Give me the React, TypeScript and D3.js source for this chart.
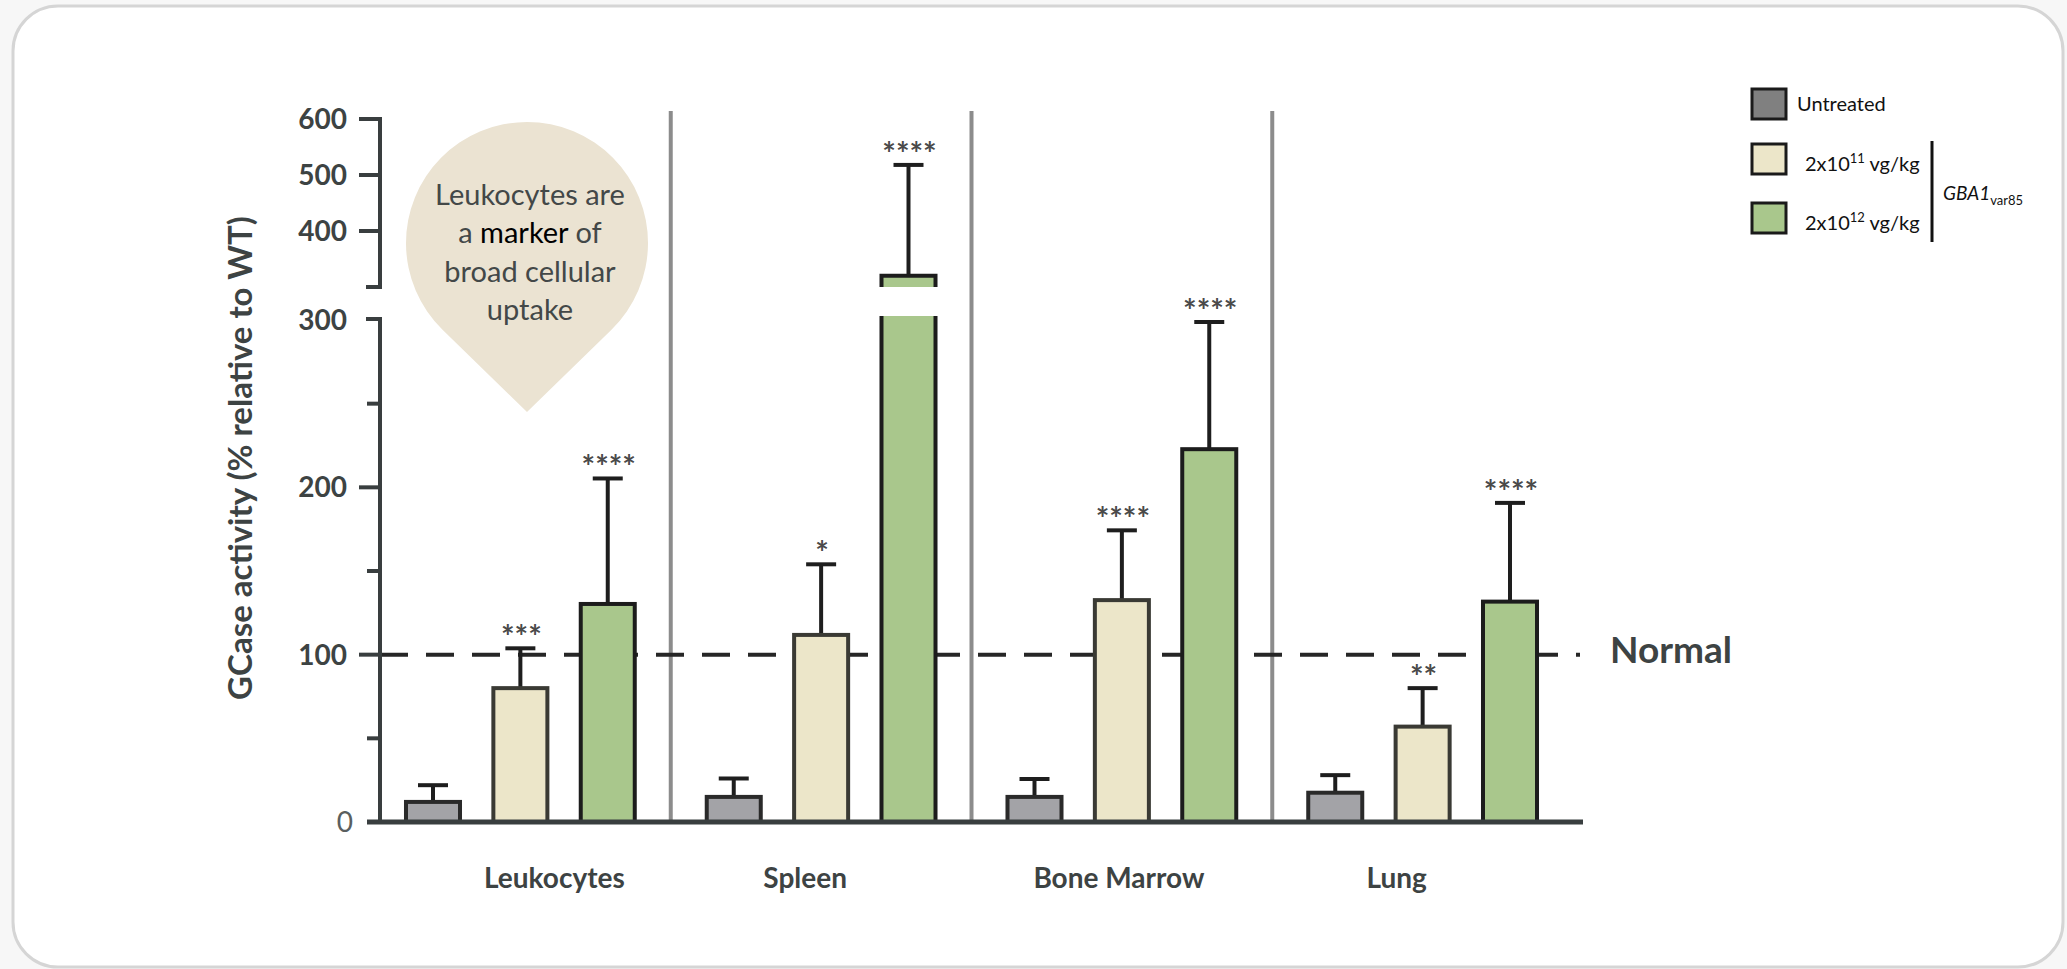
import React from 'react';
import * as d3 from 'd3';

// ---------- data ----------
const categories = ['Leukocytes', 'Spleen', 'Bone Marrow', 'Lung'];
const seriesKeys = ['untreated', 'low', 'high'];
const seriesLabels = ['Untreated', '2x10|11| vg/kg', '2x10|12| vg/kg'];
const untreatedMean = [12, 15, 15, 17.5];
const untreatedSD = [10, 11, 10.7, 10.5];
const lowMean = [80, 111.8, 132.6, 57];
const lowSD = [23.8, 42.2, 41.7, 23];
const highMean = [130.3, 320, 222.8, 131.7];
const highSD = [75, 198, 76, 59];
const untreatedSig = ['', '', '', ''];
const lowSig = ['***', '*', '****', '**'];
const highSig = ['****', '****', '****', '****'];
const lowerTicks = [0, 100, 200];
const lowerMinorTicks = [50, 150, 250];
const upperTicks = [400, 500];
const normalLevel = 100;
const calloutLines = [['Leukocytes are'], ['a ', 'marker', ' of'], ['broad cellular'], ['uptake']];

// ---------- styles / layout ----------
const W = 2067;
const H = 969;
const FONT = "Lato, 'Open Sans', sans-serif";
const INK = '#3d4343';
const AXIS = '#393e3f';
const seriesFill = ['#a3a3a7', '#ece6c9', '#a9c78c'];
const legendFill = ['#808080', '#ece6c9', '#a9c78c'];
const seriesStroke = ['#2a2a2a', '#3a3a34', '#1c1c1c'];
const labelNudge = [34, -16, -3, -26];

const series = [
  { mean: untreatedMean, sd: untreatedSD, sig: untreatedSig },
  { mean: lowMean, sd: lowSD, sig: lowSig },
  { mean: highMean, sd: highSD, sig: highSig },
];

export default function App() {
  const axisX = 380;
  const baseY = 822;
  const x = d3.scaleBand<string>().domain(categories).range([axisX - 10, 1573]);
  const inner = d3
    .scaleBand<string>()
    .domain(seriesKeys)
    .range([0, x.bandwidth()])
    .paddingInner(0.336)
    .paddingOuter(0.389);
  const yL = d3.scaleLinear().domain([0, 300]).range([baseY, 320]);
  const yU = d3.scaleLinear().domain([300, 600]).range([287, 119]);
  const yv = (v: number) => (v <= 300 ? yL(v) : yU(v));
  const lowerTop = yL(300) - 4;
  const bw = inner.bandwidth();
  const capW = 30;

  const xEnd = x.range()[1];
  const separators = categories.slice(1).map((c) => x(c)!);

  // teardrop callout
  const cc = { x: 527, y: 243, r: 121, tipY: 412 };
  const d = cc.tipY - cc.y;
  const cosT = cc.r / d;
  const sinT = Math.sqrt(1 - cosT * cosT);
  const tR = [cc.x + cc.r * sinT, cc.y + cc.r * cosT];
  const tL = [cc.x - cc.r * sinT, cc.y + cc.r * cosT];
  const calloutPath = `M${cc.x},${cc.tipY} L${tR[0]},${tR[1]} A${cc.r},${cc.r} 0 1 0 ${tL[0]},${tL[1]} Z`;

  const bars: React.ReactNode[] = [];
  const errs: React.ReactNode[] = [];
  const stars: React.ReactNode[] = [];
  categories.forEach((cat, ci) => {
    series.forEach((s, si) => {
      const bx = x(cat)! + inner(seriesKeys[si])!;
      const cx = bx + bw / 2;
      const v = s.mean[ci];
      const top = v + s.sd[ci];
      const key = `${ci}-${si}`;
      const x0 = bx + 2;
      const x1 = bx + bw - 2;
      if (v <= 300) {
        bars.push(
          <rect key={key} x={x0} y={yv(v)} width={x1 - x0} height={baseY - yv(v)}
            fill={seriesFill[si]} stroke={seriesStroke[si]} strokeWidth={4} />
        );
      } else {
        bars.push(
          <g key={key}>
            <rect x={x0} y={lowerTop} width={x1 - x0} height={baseY - lowerTop} fill={seriesFill[si]} />
            <path d={`M${x0},${lowerTop} V${baseY} H${x1} V${lowerTop}`} fill="none" stroke={seriesStroke[si]} strokeWidth={4} />
            <rect x={x0} y={yU(v)} width={x1 - x0} height={yU(300) - yU(v)} fill={seriesFill[si]} />
            <path d={`M${x0},${yU(300)} V${yU(v)} H${x1} V${yU(300)}`} fill="none" stroke={seriesStroke[si]} strokeWidth={4} />
          </g>
        );
      }
      errs.push(
        <g key={key} stroke="#1e1e1e" strokeWidth={4}>
          <line x1={cx} x2={cx} y1={yv(v)} y2={yv(top)} />
          <line x1={cx - capW / 2} x2={cx + capW / 2} y1={yv(top)} y2={yv(top)} />
        </g>
      );
      if (s.sig[ci]) {
        stars.push(
          <text key={key} x={cx + 1} y={yv(top) + 1} textAnchor="middle" fontFamily={FONT}
            fontSize={32} fontWeight={700} fill="#4a4a4a" letterSpacing={0}>
            {s.sig[ci]}
          </text>
        );
      }
    });
  });

  const legendX = 1752;
  const legendY = [89, 144, 203];

  return (
    <svg width={W} height={H} style={{ position: 'absolute', left: 0, top: 0, background: '#f7f7f7' }}>
      <rect x={13} y={6} width={2050} height={961} rx={45} ry={45} fill="#fff" stroke="#d5d5d5" strokeWidth={3} />

      {/* callout */}
      <path d={calloutPath} fill="#ebe3d2" />
      {calloutLines.map((parts, i) => (
        <text key={i} x={cc.x + 3} y={205 + i * 38.4} textAnchor="middle" fontFamily={FONT} fontSize={29} fill="#434848">
          {parts.map((p, j) => (
            <tspan key={j} fill={p === 'marker' ? '#000' : undefined}>{p}</tspan>
          ))}
        </text>
      ))}

      {/* group separators */}
      {separators.map((sx, i) => (
        <line key={i} x1={sx} x2={sx} y1={111} y2={baseY} stroke="#8c8c8c" strokeWidth={4} />
      ))}

      {/* normal level */}
      <line x1={axisX} x2={xEnd + 7} y1={yL(normalLevel)} y2={yL(normalLevel)} stroke="#262626"
        strokeWidth={4} strokeDasharray="28 18" />
      <text x={xEnd + 37} y={yL(normalLevel) + 8} fontFamily={FONT} fontWeight={700} fontSize={37} fill={INK}>
        Normal
      </text>

      {errs}
      {bars}
      {stars}

      {/* x axis */}
      <line x1={axisX - 13} x2={xEnd + 10} y1={baseY} y2={baseY} stroke={AXIS} strokeWidth={5} />
      {categories.map((c, i) => (
        <text key={c} x={x(c)! + x.bandwidth() / 2 + labelNudge[i]} y={888} textAnchor="middle"
          fontFamily={FONT} fontWeight={700} fontSize={28} fill={INK}>
          {c}
        </text>
      ))}

      {/* y axis lower */}
      <g stroke={AXIS} strokeWidth={4}>
        <line x1={axisX} x2={axisX} y1={yL(300) - 3} y2={baseY} />
        <line x1={axisX - 14} x2={axisX + 2} y1={yL(300) - 1} y2={yL(300) - 1} />
        {lowerTicks.filter((t) => t > 0).map((t) => (
          <line key={t} x1={axisX - 21} x2={axisX} y1={yL(t)} y2={yL(t)} />
        ))}
        {lowerMinorTicks.map((t) => (
          <line key={t} x1={axisX - 13} x2={axisX} y1={yL(t)} y2={yL(t)} />
        ))}
        <line x1={axisX} x2={axisX} y1={yU(600) - 2} y2={yU(300) + 2} />
        <line x1={axisX - 14} x2={axisX + 2} y1={yU(300)} y2={yU(300)} />
        {upperTicks.map((t) => (
          <line key={t} x1={axisX - 21} x2={axisX} y1={yU(t)} y2={yU(t)} />
        ))}
        <line x1={axisX - 21} x2={axisX + 2} y1={yU(600)} y2={yU(600)} />
      </g>
      {[...lowerTicks, 300].map((t) => (
        <text key={t} x={t === 0 ? 353 : 347} y={yL(t)} dy="0.36em" textAnchor="end" fontFamily={FONT}
          fontWeight={t === 0 ? 400 : 700} fontSize={28} fill={t === 0 ? '#5a5f5f' : INK}>
          {t}
        </text>
      ))}
      {[...upperTicks, 600].map((t) => (
        <text key={t} x={347} y={yU(t)} dy="0.36em" textAnchor="end" fontFamily={FONT}
          fontWeight={700} fontSize={28} fill={INK}>
          {t}
        </text>
      ))}
      <text transform="translate(252,458) rotate(-90)" textAnchor="middle" fontFamily={FONT}
        fontWeight={700} fontSize={33} fill={INK}>
        GCase activity (% relative to WT)
      </text>

      {/* legend */}
      {seriesLabels.map((lab, i) => {
        const parts = lab.split('|');
        return (
          <g key={i}>
            <rect x={legendX} y={legendY[i]} width={34} height={30} fill={legendFill[i]} stroke="#1a1a1a" strokeWidth={3} />
            {parts.length === 1 ? (
              <text x={legendX + 45} y={legendY[i] + 22} fontFamily={FONT} fontSize={20} fill="#111">{lab}</text>
            ) : (
              <text x={legendX + 53} y={legendY[i] + 27} fontFamily={FONT} fontSize={20} fill="#111">
                {parts[0]}
                <tspan dy={-8} fontSize={13}>{parts[1]}</tspan>
                <tspan dy={8}>{parts[2]}</tspan>
              </text>
            )}
          </g>
        );
      })}
      <line x1={1932} x2={1932} y1={141} y2={242} stroke="#111" strokeWidth={3} />
      <text x={1943} y={200} fontFamily={FONT} fontSize={19} fill="#111">
        <tspan fontStyle="italic">GBA1</tspan>
        <tspan dy={5} fontSize={13}>var85</tspan>
      </text>
    </svg>
  );
}
